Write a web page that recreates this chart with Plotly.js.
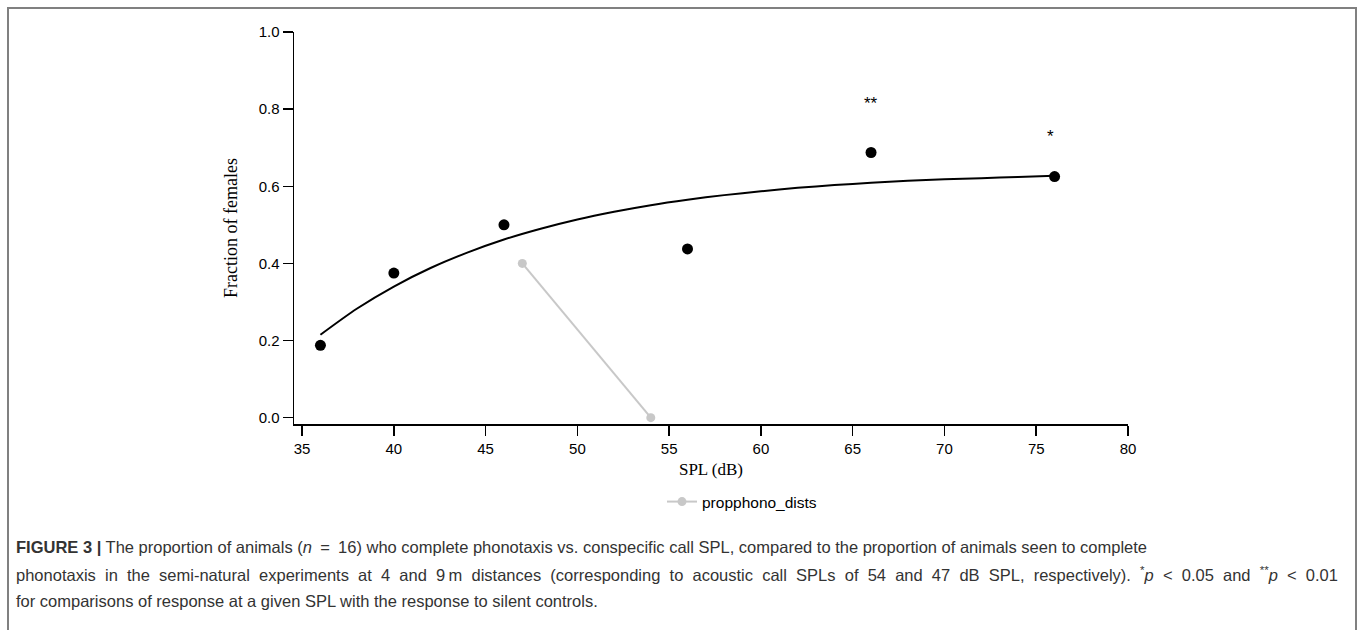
<!DOCTYPE html>
<html>
<head>
<meta charset="utf-8">
<script src="https://cdn.plot.ly/plotly-3.0.1.min.js"></script>
<style>
  html, body { margin: 0; padding: 0; background: #ffffff; }
  #chart { width: 1360px; height: 630px; }
</style>
</head>
<body>
<div id="chart"></div>
<script>
// ---- Data ----
const splLevels = [36, 40, 46, 56, 66, 76];
const fractionFemales = [0.1875, 0.375, 0.5, 0.4375, 0.6875, 0.625];

const fitSpl = [36, 38, 40, 42, 44, 46, 48, 50, 52, 54, 56, 58, 60, 62, 64, 66, 68, 70, 72, 74, 76];
const fitFraction = [0.215, 0.283, 0.340, 0.388, 0.428, 0.462, 0.490, 0.514, 0.534, 0.551, 0.565,
                     0.577, 0.587, 0.596, 0.603, 0.609, 0.614, 0.618, 0.621, 0.624, 0.627];

const distSpl = [47, 54];
const distFraction = [0.4, 0.0];
const distName = "propphono_dists";

const sigSpl = [66, 75.75];
const sigLevel = [0.816, 0.732];
const sigLabels = ["**", "*"];

const xTicks = [35, 40, 45, 50, 55, 60, 65, 70, 75, 80];
const yTicks = [0.0, 0.2, 0.4, 0.6, 0.8, 1.0];

const captionLines = [
  "<b>FIGURE 3 |</b> The proportion of animals (<i>n</i>\u2002=\u200216) who complete phonotaxis vs. conspecific call SPL, compared to the proportion of animals seen to complete",
  "phonotaxis in the semi-natural experiments at 4 and 9\u2009m distances (corresponding to acoustic call SPLs of 54 and 47 dB SPL, respectively). <sup>*</sup><i>p</i> < 0.05 and <sup>**</sup><i>p</i> < 0.01",
  "for comparisons of response at a given SPL with the response to silent controls."
];
// the second caption line is justified (stretched) in the reference
const justifiedLine = [false, true, false];

// ---- Layout geometry (pixels) ----
const W = 1360, H = 630;
const M = { l: 294, r: 232, t: 32, b: 206 };
const plotW = W - M.l - M.r;
const plotH = H - M.t - M.b;
const px2paperX = p => (p - M.l) / plotW;
const py2paperY = p => (H - M.b - p) / plotH;

const sans = "Liberation Sans, Arial, sans-serif";
const serif = "Liberation Serif, Times New Roman, serif";

const traces = [
  {
    x: fitSpl, y: fitFraction, mode: "lines", type: "scatter",
    line: { color: "#000000", width: 2, shape: "spline", smoothing: 0.8 },
    showlegend: false, hoverinfo: "skip"
  },
  {
    x: distSpl, y: distFraction, mode: "lines+markers", type: "scatter", name: distName,
    line: { color: "#c8c8c8", width: 2 },
    marker: { color: "#c8c8c8", size: 9 }, showlegend: true
  },
  {
    x: splLevels, y: fractionFemales, mode: "markers", type: "scatter",
    marker: { color: "#000000", size: 11 }, showlegend: false
  }
];

const annotations = [];
sigSpl.forEach((x, i) => {
  annotations.push({
    x: x, y: sigLevel[i], xref: "x", yref: "y", text: sigLabels[i],
    showarrow: false, xanchor: "center", yanchor: "middle", yshift: -1,
    font: { family: sans, size: 17, color: "#000000" }
  });
});
const captionY = [547, 574, 601];
captionLines.forEach((t, i) => {
  const txt = justifiedLine[i] ? t.replace(/ (?![^<]*>)/g, "\u00a0 ") : t;
  annotations.push({
    x: px2paperX(14), y: py2paperY(captionY[i]), xref: "paper", yref: "paper",
    text: txt, showarrow: false, xanchor: "left", yanchor: "middle", align: "left",
    font: { family: sans, size: 16.5, color: "#333333" }
  });
});

const layout = {
  width: W, height: H,
  margin: M,
  paper_bgcolor: "#ffffff", plot_bgcolor: "#ffffff",
  hovermode: false,
  font: { family: sans, size: 15, color: "#000000" },
  xaxis: {
    range: [34.56, 80], tickvals: xTicks, ticktext: xTicks.map(String),
    showline: true, linecolor: "#000000", linewidth: 1.5,
    ticks: "outside", ticklen: 10, tickwidth: 1.5, tickcolor: "#000000",
    showgrid: false, zeroline: false,
    tickfont: { family: sans, size: 15, color: "#000000" },
    title: { text: "SPL (dB)", standoff: 7,
             font: { family: serif, size: 17, color: "#000000" } }
  },
  yaxis: {
    range: [-0.0165, 1.0], tickvals: yTicks, ticktext: yTicks.map(v => v.toFixed(1)),
    showline: true, linecolor: "#000000", linewidth: 1.5,
    ticks: "outside", ticklen: 10, tickwidth: 1.5, tickcolor: "#000000",
    showgrid: false, zeroline: false,
    tickfont: { family: sans, size: 15, color: "#000000" },
    title: { text: "Fraction of females", standoff: 16,
             font: { family: serif, size: 18, color: "#000000" } }
  },
  showlegend: true,
  legend: {
    orientation: "h", x: px2paperX(662), y: py2paperY(502), xanchor: "left", yanchor: "middle",
    bgcolor: "rgba(0,0,0,0)", borderwidth: 0,
    font: { family: sans, size: 15.5, color: "#000000" }
  },
  annotations: annotations,
  shapes: [
    {
      type: "rect", xref: "paper", yref: "paper",
      x0: px2paperX(8), x1: px2paperX(1356), y0: py2paperY(660), y1: py2paperY(8),
      line: { color: "#808080", width: 2 }, fillcolor: "rgba(0,0,0,0)", layer: "below"
    }
  ]
};

Plotly.newPlot("chart", traces, layout, { displayModeBar: false, staticPlot: true });
</script>
</body>
</html>
